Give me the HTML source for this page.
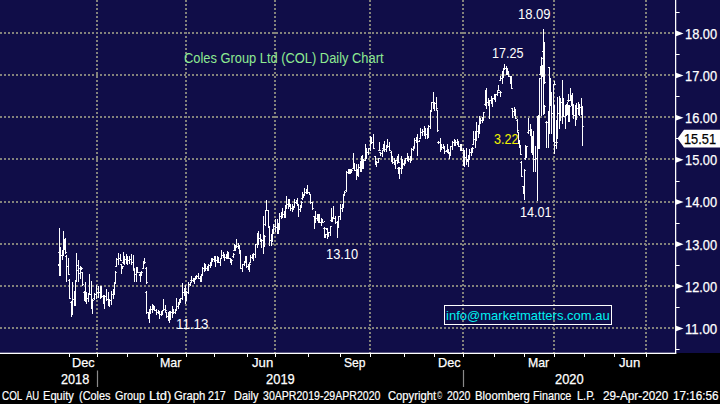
<!DOCTYPE html>
<html><head><meta charset="utf-8"><title>COL Daily Chart</title>
<style>
html,body{margin:0;padding:0;background:#000;}
body{width:720px;height:404px;position:relative;overflow:hidden;font-family:"Liberation Sans",sans-serif;}
.bg{position:absolute;left:0;top:0;width:720px;height:353px;background:#100d48;z-index:0}
.t{position:absolute;white-space:pre;line-height:1;transform-origin:0 0;}
</style></head><body>
<div class="bg"></div>
<svg width="720" height="404" viewBox="0 0 720 404" style="position:absolute;left:0;top:0;z-index:2">
<g stroke="#83827b" stroke-width="2" stroke-dasharray="2 2" fill="none">
<line x1="0" y1="328" x2="675" y2="328"/>
<line x1="0" y1="286" x2="675" y2="286"/>
<line x1="0" y1="244" x2="675" y2="244"/>
<line x1="0" y1="202" x2="675" y2="202"/>
<line x1="0" y1="159" x2="675" y2="159"/>
<line x1="0" y1="117" x2="675" y2="117"/>
<line x1="0" y1="75" x2="675" y2="75"/>
<line x1="0" y1="33" x2="675" y2="33"/>
<line x1="97" y1="0" x2="97" y2="353"/>
<line x1="186" y1="0" x2="186" y2="353"/>
<line x1="275" y1="0" x2="275" y2="353"/>
<line x1="370" y1="0" x2="370" y2="353"/>
<line x1="463" y1="0" x2="463" y2="353"/>
<line x1="554" y1="0" x2="554" y2="353"/>
<line x1="646" y1="0" x2="646" y2="353"/>
</g>
<g fill="#fff" shape-rendering="crispEdges">
<rect x="58" y="264" width="1" height="2"/>
<rect x="59" y="228" width="1" height="48"/>
<rect x="60" y="262" width="1" height="1" fill-opacity="0.85"/>
<rect x="58" y="252" width="1" height="1" fill-opacity="0.85"/>
<rect x="60" y="247" width="1" height="29"/>
<rect x="61" y="255" width="1" height="1" fill-opacity="0.85"/>
<rect x="59" y="262" width="1" height="1" fill-opacity="0.85"/>
<rect x="62" y="250" width="1" height="10"/>
<rect x="63" y="250" width="1" height="1" fill-opacity="0.85"/>
<rect x="61" y="255" width="1" height="1" fill-opacity="0.85"/>
<rect x="63" y="231" width="1" height="25"/>
<rect x="64" y="244" width="1" height="1" fill-opacity="0.85"/>
<rect x="62" y="250" width="1" height="1" fill-opacity="0.85"/>
<rect x="64" y="239" width="1" height="11"/>
<rect x="65" y="246" width="1" height="1" fill-opacity="0.85"/>
<rect x="63" y="244" width="1" height="1" fill-opacity="0.85"/>
<rect x="65" y="238" width="1" height="16"/>
<rect x="66" y="252" width="1" height="1" fill-opacity="0.85"/>
<rect x="64" y="246" width="1" height="1" fill-opacity="0.85"/>
<rect x="66" y="255" width="1" height="27"/>
<rect x="67" y="266" width="1" height="1" fill-opacity="0.85"/>
<rect x="65" y="256" width="1" height="1" fill-opacity="0.85"/>
<rect x="68" y="258" width="1" height="17"/>
<rect x="69" y="274" width="1" height="1" fill-opacity="0.85"/>
<rect x="67" y="266" width="1" height="1" fill-opacity="0.85"/>
<rect x="69" y="279" width="1" height="20"/>
<rect x="70" y="298" width="1" height="1" fill-opacity="0.85"/>
<rect x="68" y="280" width="1" height="1" fill-opacity="0.85"/>
<rect x="71" y="301" width="1" height="16"/>
<rect x="72" y="302" width="1" height="1" fill-opacity="0.85"/>
<rect x="70" y="302" width="1" height="1" fill-opacity="0.85"/>
<rect x="72" y="282" width="1" height="33"/>
<rect x="73" y="299" width="1" height="1" fill-opacity="0.85"/>
<rect x="71" y="302" width="1" height="1" fill-opacity="0.85"/>
<rect x="74" y="291" width="1" height="15"/>
<rect x="75" y="293" width="1" height="1" fill-opacity="0.85"/>
<rect x="73" y="299" width="1" height="1" fill-opacity="0.85"/>
<rect x="75" y="280" width="1" height="26"/>
<rect x="76" y="280" width="1" height="1" fill-opacity="0.85"/>
<rect x="74" y="293" width="1" height="1" fill-opacity="0.85"/>
<rect x="76" y="253" width="1" height="29"/>
<rect x="77" y="265" width="1" height="1" fill-opacity="0.85"/>
<rect x="75" y="280" width="1" height="1" fill-opacity="0.85"/>
<rect x="78" y="260" width="1" height="10"/>
<rect x="79" y="268" width="1" height="1" fill-opacity="0.85"/>
<rect x="77" y="265" width="1" height="1" fill-opacity="0.85"/>
<rect x="78" y="270" width="1" height="12"/>
<rect x="79" y="273" width="1" height="1" fill-opacity="0.85"/>
<rect x="77" y="270" width="1" height="1" fill-opacity="0.85"/>
<rect x="80" y="266" width="1" height="13"/>
<rect x="81" y="268" width="1" height="1" fill-opacity="0.85"/>
<rect x="79" y="273" width="1" height="1" fill-opacity="0.85"/>
<rect x="81" y="267" width="1" height="3"/>
<rect x="82" y="268" width="1" height="1" fill-opacity="0.85"/>
<rect x="80" y="268" width="1" height="1" fill-opacity="0.85"/>
<rect x="82" y="272" width="1" height="14"/>
<rect x="83" y="284" width="1" height="1" fill-opacity="0.85"/>
<rect x="81" y="272" width="1" height="1" fill-opacity="0.85"/>
<rect x="84" y="291" width="1" height="10"/>
<rect x="85" y="292" width="1" height="1" fill-opacity="0.85"/>
<rect x="83" y="292" width="1" height="1" fill-opacity="0.85"/>
<rect x="85" y="282" width="1" height="20"/>
<rect x="86" y="298" width="1" height="1" fill-opacity="0.85"/>
<rect x="84" y="292" width="1" height="1" fill-opacity="0.85"/>
<rect x="86" y="292" width="1" height="12"/>
<rect x="87" y="298" width="1" height="1" fill-opacity="0.85"/>
<rect x="85" y="298" width="1" height="1" fill-opacity="0.85"/>
<rect x="88" y="293" width="1" height="9"/>
<rect x="89" y="294" width="1" height="1" fill-opacity="0.85"/>
<rect x="87" y="298" width="1" height="1" fill-opacity="0.85"/>
<rect x="89" y="274" width="1" height="21"/>
<rect x="90" y="294" width="1" height="1" fill-opacity="0.85"/>
<rect x="88" y="294" width="1" height="1" fill-opacity="0.85"/>
<rect x="91" y="281" width="1" height="28"/>
<rect x="92" y="306" width="1" height="1" fill-opacity="0.85"/>
<rect x="90" y="294" width="1" height="1" fill-opacity="0.85"/>
<rect x="92" y="299" width="1" height="15"/>
<rect x="93" y="300" width="1" height="1" fill-opacity="0.85"/>
<rect x="91" y="306" width="1" height="1" fill-opacity="0.85"/>
<rect x="94" y="293" width="1" height="7"/>
<rect x="95" y="294" width="1" height="1" fill-opacity="0.85"/>
<rect x="93" y="298" width="1" height="1" fill-opacity="0.85"/>
<rect x="96" y="285" width="1" height="14"/>
<rect x="97" y="292" width="1" height="1" fill-opacity="0.85"/>
<rect x="95" y="294" width="1" height="1" fill-opacity="0.85"/>
<rect x="98" y="286" width="1" height="12"/>
<rect x="99" y="292" width="1" height="1" fill-opacity="0.85"/>
<rect x="97" y="292" width="1" height="1" fill-opacity="0.85"/>
<rect x="100" y="286" width="1" height="13"/>
<rect x="101" y="292" width="1" height="1" fill-opacity="0.85"/>
<rect x="99" y="292" width="1" height="1" fill-opacity="0.85"/>
<rect x="101" y="286" width="1" height="12"/>
<rect x="102" y="296" width="1" height="1" fill-opacity="0.85"/>
<rect x="100" y="292" width="1" height="1" fill-opacity="0.85"/>
<rect x="103" y="295" width="1" height="9"/>
<rect x="104" y="302" width="1" height="1" fill-opacity="0.85"/>
<rect x="102" y="296" width="1" height="1" fill-opacity="0.85"/>
<rect x="104" y="295" width="1" height="14"/>
<rect x="105" y="296" width="1" height="1" fill-opacity="0.85"/>
<rect x="103" y="302" width="1" height="1" fill-opacity="0.85"/>
<rect x="106" y="289" width="1" height="12"/>
<rect x="107" y="299" width="1" height="1" fill-opacity="0.85"/>
<rect x="105" y="296" width="1" height="1" fill-opacity="0.85"/>
<rect x="108" y="292" width="1" height="14"/>
<rect x="109" y="303" width="1" height="1" fill-opacity="0.85"/>
<rect x="107" y="299" width="1" height="1" fill-opacity="0.85"/>
<rect x="109" y="299" width="1" height="8"/>
<rect x="110" y="300" width="1" height="1" fill-opacity="0.85"/>
<rect x="108" y="303" width="1" height="1" fill-opacity="0.85"/>
<rect x="111" y="291" width="1" height="14"/>
<rect x="112" y="294" width="1" height="1" fill-opacity="0.85"/>
<rect x="110" y="300" width="1" height="1" fill-opacity="0.85"/>
<rect x="113" y="289" width="1" height="10"/>
<rect x="114" y="290" width="1" height="1" fill-opacity="0.85"/>
<rect x="112" y="294" width="1" height="1" fill-opacity="0.85"/>
<rect x="114" y="282" width="1" height="13"/>
<rect x="115" y="282" width="1" height="1" fill-opacity="0.85"/>
<rect x="113" y="290" width="1" height="1" fill-opacity="0.85"/>
<rect x="115" y="271" width="1" height="13"/>
<rect x="116" y="272" width="1" height="1" fill-opacity="0.85"/>
<rect x="114" y="282" width="1" height="1" fill-opacity="0.85"/>
<rect x="116" y="258" width="1" height="9"/>
<rect x="117" y="259" width="1" height="1" fill-opacity="0.85"/>
<rect x="115" y="266" width="1" height="1" fill-opacity="0.85"/>
<rect x="118" y="253" width="1" height="12"/>
<rect x="119" y="258" width="1" height="1" fill-opacity="0.85"/>
<rect x="117" y="259" width="1" height="1" fill-opacity="0.85"/>
<rect x="120" y="254" width="1" height="7"/>
<rect x="121" y="260" width="1" height="1" fill-opacity="0.85"/>
<rect x="119" y="258" width="1" height="1" fill-opacity="0.85"/>
<rect x="121" y="264" width="1" height="10"/>
<rect x="122" y="268" width="1" height="1" fill-opacity="0.85"/>
<rect x="120" y="264" width="1" height="1" fill-opacity="0.85"/>
<rect x="122" y="266" width="1" height="3"/>
<rect x="123" y="266" width="1" height="1" fill-opacity="0.85"/>
<rect x="121" y="268" width="1" height="1" fill-opacity="0.85"/>
<rect x="123" y="252" width="1" height="12"/>
<rect x="124" y="261" width="1" height="1" fill-opacity="0.85"/>
<rect x="122" y="262" width="1" height="1" fill-opacity="0.85"/>
<rect x="124" y="256" width="1" height="9"/>
<rect x="125" y="259" width="1" height="1" fill-opacity="0.85"/>
<rect x="123" y="261" width="1" height="1" fill-opacity="0.85"/>
<rect x="126" y="254" width="1" height="10"/>
<rect x="127" y="260" width="1" height="1" fill-opacity="0.85"/>
<rect x="125" y="259" width="1" height="1" fill-opacity="0.85"/>
<rect x="127" y="256" width="1" height="9"/>
<rect x="128" y="260" width="1" height="1" fill-opacity="0.85"/>
<rect x="126" y="260" width="1" height="1" fill-opacity="0.85"/>
<rect x="129" y="256" width="1" height="8"/>
<rect x="130" y="259" width="1" height="1" fill-opacity="0.85"/>
<rect x="128" y="260" width="1" height="1" fill-opacity="0.85"/>
<rect x="131" y="254" width="1" height="11"/>
<rect x="132" y="262" width="1" height="1" fill-opacity="0.85"/>
<rect x="130" y="259" width="1" height="1" fill-opacity="0.85"/>
<rect x="133" y="255" width="1" height="15"/>
<rect x="134" y="268" width="1" height="1" fill-opacity="0.85"/>
<rect x="132" y="262" width="1" height="1" fill-opacity="0.85"/>
<rect x="134" y="269" width="1" height="13"/>
<rect x="135" y="274" width="1" height="1" fill-opacity="0.85"/>
<rect x="133" y="270" width="1" height="1" fill-opacity="0.85"/>
<rect x="136" y="267" width="1" height="15"/>
<rect x="137" y="270" width="1" height="1" fill-opacity="0.85"/>
<rect x="135" y="274" width="1" height="1" fill-opacity="0.85"/>
<rect x="137" y="267" width="1" height="6"/>
<rect x="138" y="272" width="1" height="1" fill-opacity="0.85"/>
<rect x="136" y="270" width="1" height="1" fill-opacity="0.85"/>
<rect x="139" y="274" width="1" height="2"/>
<rect x="140" y="272" width="1" height="10"/>
<rect x="141" y="274" width="1" height="1" fill-opacity="0.85"/>
<rect x="139" y="272" width="1" height="1" fill-opacity="0.85"/>
<rect x="141" y="271" width="1" height="5"/>
<rect x="142" y="272" width="1" height="1" fill-opacity="0.85"/>
<rect x="140" y="274" width="1" height="1" fill-opacity="0.85"/>
<rect x="143" y="261" width="1" height="8"/>
<rect x="144" y="262" width="1" height="1" fill-opacity="0.85"/>
<rect x="142" y="268" width="1" height="1" fill-opacity="0.85"/>
<rect x="144" y="258" width="1" height="6"/>
<rect x="145" y="262" width="1" height="1" fill-opacity="0.85"/>
<rect x="143" y="262" width="1" height="1" fill-opacity="0.85"/>
<rect x="146" y="267" width="1" height="17"/>
<rect x="147" y="282" width="1" height="1" fill-opacity="0.85"/>
<rect x="145" y="268" width="1" height="1" fill-opacity="0.85"/>
<rect x="146" y="291" width="1" height="23"/>
<rect x="147" y="312" width="1" height="1" fill-opacity="0.85"/>
<rect x="145" y="292" width="1" height="1" fill-opacity="0.85"/>
<rect x="148" y="312" width="1" height="7"/>
<rect x="149" y="316" width="1" height="1" fill-opacity="0.85"/>
<rect x="147" y="312" width="1" height="1" fill-opacity="0.85"/>
<rect x="149" y="309" width="1" height="14"/>
<rect x="150" y="310" width="1" height="1" fill-opacity="0.85"/>
<rect x="148" y="316" width="1" height="1" fill-opacity="0.85"/>
<rect x="150" y="306" width="1" height="8"/>
<rect x="151" y="309" width="1" height="1" fill-opacity="0.85"/>
<rect x="149" y="310" width="1" height="1" fill-opacity="0.85"/>
<rect x="152" y="304" width="1" height="9"/>
<rect x="153" y="308" width="1" height="1" fill-opacity="0.85"/>
<rect x="151" y="309" width="1" height="1" fill-opacity="0.85"/>
<rect x="153" y="305" width="1" height="5"/>
<rect x="154" y="308" width="1" height="1" fill-opacity="0.85"/>
<rect x="152" y="308" width="1" height="1" fill-opacity="0.85"/>
<rect x="154" y="306" width="1" height="5"/>
<rect x="155" y="310" width="1" height="1" fill-opacity="0.85"/>
<rect x="153" y="308" width="1" height="1" fill-opacity="0.85"/>
<rect x="156" y="309" width="1" height="6"/>
<rect x="157" y="312" width="1" height="1" fill-opacity="0.85"/>
<rect x="155" y="310" width="1" height="1" fill-opacity="0.85"/>
<rect x="158" y="310" width="1" height="4"/>
<rect x="159" y="312" width="1" height="1" fill-opacity="0.85"/>
<rect x="157" y="312" width="1" height="1" fill-opacity="0.85"/>
<rect x="159" y="311" width="1" height="8"/>
<rect x="160" y="314" width="1" height="1" fill-opacity="0.85"/>
<rect x="158" y="312" width="1" height="1" fill-opacity="0.85"/>
<rect x="161" y="311" width="1" height="5"/>
<rect x="162" y="312" width="1" height="1" fill-opacity="0.85"/>
<rect x="160" y="314" width="1" height="1" fill-opacity="0.85"/>
<rect x="162" y="310" width="1" height="5"/>
<rect x="163" y="310" width="1" height="1" fill-opacity="0.85"/>
<rect x="161" y="312" width="1" height="1" fill-opacity="0.85"/>
<rect x="163" y="299" width="1" height="12"/>
<rect x="164" y="309" width="1" height="1" fill-opacity="0.85"/>
<rect x="162" y="310" width="1" height="1" fill-opacity="0.85"/>
<rect x="165" y="305" width="1" height="7"/>
<rect x="166" y="310" width="1" height="1" fill-opacity="0.85"/>
<rect x="164" y="309" width="1" height="1" fill-opacity="0.85"/>
<rect x="166" y="312" width="1" height="6"/>
<rect x="167" y="316" width="1" height="1" fill-opacity="0.85"/>
<rect x="165" y="312" width="1" height="1" fill-opacity="0.85"/>
<rect x="168" y="312" width="1" height="9"/>
<rect x="169" y="317" width="1" height="1" fill-opacity="0.85"/>
<rect x="167" y="316" width="1" height="1" fill-opacity="0.85"/>
<rect x="169" y="311" width="1" height="12"/>
<rect x="170" y="316" width="1" height="1" fill-opacity="0.85"/>
<rect x="168" y="317" width="1" height="1" fill-opacity="0.85"/>
<rect x="170" y="311" width="1" height="9"/>
<rect x="171" y="312" width="1" height="1" fill-opacity="0.85"/>
<rect x="169" y="316" width="1" height="1" fill-opacity="0.85"/>
<rect x="172" y="306" width="1" height="12"/>
<rect x="173" y="311" width="1" height="1" fill-opacity="0.85"/>
<rect x="171" y="312" width="1" height="1" fill-opacity="0.85"/>
<rect x="173" y="309" width="1" height="5"/>
<rect x="174" y="312" width="1" height="1" fill-opacity="0.85"/>
<rect x="172" y="311" width="1" height="1" fill-opacity="0.85"/>
<rect x="175" y="309" width="1" height="5"/>
<rect x="176" y="310" width="1" height="1" fill-opacity="0.85"/>
<rect x="174" y="312" width="1" height="1" fill-opacity="0.85"/>
<rect x="176" y="298" width="1" height="13"/>
<rect x="177" y="306" width="1" height="1" fill-opacity="0.85"/>
<rect x="175" y="310" width="1" height="1" fill-opacity="0.85"/>
<rect x="178" y="302" width="1" height="7"/>
<rect x="179" y="302" width="1" height="1" fill-opacity="0.85"/>
<rect x="177" y="306" width="1" height="1" fill-opacity="0.85"/>
<rect x="179" y="299" width="1" height="6"/>
<rect x="180" y="301" width="1" height="1" fill-opacity="0.85"/>
<rect x="178" y="302" width="1" height="1" fill-opacity="0.85"/>
<rect x="180" y="298" width="1" height="5"/>
<rect x="181" y="298" width="1" height="1" fill-opacity="0.85"/>
<rect x="179" y="301" width="1" height="1" fill-opacity="0.85"/>
<rect x="182" y="283" width="1" height="17"/>
<rect x="183" y="292" width="1" height="1" fill-opacity="0.85"/>
<rect x="181" y="298" width="1" height="1" fill-opacity="0.85"/>
<rect x="184" y="288" width="1" height="8"/>
<rect x="185" y="294" width="1" height="1" fill-opacity="0.85"/>
<rect x="183" y="292" width="1" height="1" fill-opacity="0.85"/>
<rect x="185" y="285" width="1" height="19"/>
<rect x="186" y="296" width="1" height="1" fill-opacity="0.85"/>
<rect x="184" y="294" width="1" height="1" fill-opacity="0.85"/>
<rect x="186" y="291" width="1" height="10"/>
<rect x="187" y="292" width="1" height="1" fill-opacity="0.85"/>
<rect x="185" y="296" width="1" height="1" fill-opacity="0.85"/>
<rect x="188" y="282" width="1" height="12"/>
<rect x="189" y="284" width="1" height="1" fill-opacity="0.85"/>
<rect x="187" y="292" width="1" height="1" fill-opacity="0.85"/>
<rect x="190" y="282" width="1" height="4"/>
<rect x="191" y="282" width="1" height="1" fill-opacity="0.85"/>
<rect x="189" y="284" width="1" height="1" fill-opacity="0.85"/>
<rect x="191" y="276" width="1" height="6"/>
<rect x="192" y="280" width="1" height="1" fill-opacity="0.85"/>
<rect x="190" y="280" width="1" height="1" fill-opacity="0.85"/>
<rect x="193" y="278" width="1" height="4"/>
<rect x="194" y="280" width="1" height="1" fill-opacity="0.85"/>
<rect x="192" y="280" width="1" height="1" fill-opacity="0.85"/>
<rect x="194" y="278" width="1" height="6"/>
<rect x="195" y="278" width="1" height="1" fill-opacity="0.85"/>
<rect x="193" y="280" width="1" height="1" fill-opacity="0.85"/>
<rect x="195" y="276" width="1" height="4"/>
<rect x="196" y="277" width="1" height="1" fill-opacity="0.85"/>
<rect x="194" y="278" width="1" height="1" fill-opacity="0.85"/>
<rect x="196" y="275" width="1" height="4"/>
<rect x="197" y="276" width="1" height="1" fill-opacity="0.85"/>
<rect x="195" y="277" width="1" height="1" fill-opacity="0.85"/>
<rect x="198" y="273" width="1" height="6"/>
<rect x="199" y="278" width="1" height="1" fill-opacity="0.85"/>
<rect x="197" y="276" width="1" height="1" fill-opacity="0.85"/>
<rect x="200" y="276" width="1" height="6"/>
<rect x="201" y="278" width="1" height="1" fill-opacity="0.85"/>
<rect x="199" y="278" width="1" height="1" fill-opacity="0.85"/>
<rect x="201" y="274" width="1" height="8"/>
<rect x="202" y="274" width="1" height="1" fill-opacity="0.85"/>
<rect x="200" y="278" width="1" height="1" fill-opacity="0.85"/>
<rect x="202" y="267" width="1" height="9"/>
<rect x="203" y="268" width="1" height="1" fill-opacity="0.85"/>
<rect x="201" y="274" width="1" height="1" fill-opacity="0.85"/>
<rect x="204" y="263" width="1" height="9"/>
<rect x="205" y="268" width="1" height="1" fill-opacity="0.85"/>
<rect x="203" y="268" width="1" height="1" fill-opacity="0.85"/>
<rect x="205" y="264" width="1" height="7"/>
<rect x="206" y="268" width="1" height="1" fill-opacity="0.85"/>
<rect x="204" y="268" width="1" height="1" fill-opacity="0.85"/>
<rect x="207" y="266" width="1" height="5"/>
<rect x="208" y="268" width="1" height="1" fill-opacity="0.85"/>
<rect x="206" y="268" width="1" height="1" fill-opacity="0.85"/>
<rect x="208" y="264" width="1" height="7"/>
<rect x="209" y="265" width="1" height="1" fill-opacity="0.85"/>
<rect x="207" y="268" width="1" height="1" fill-opacity="0.85"/>
<rect x="210" y="262" width="1" height="6"/>
<rect x="211" y="262" width="1" height="1" fill-opacity="0.85"/>
<rect x="209" y="265" width="1" height="1" fill-opacity="0.85"/>
<rect x="211" y="258" width="1" height="8"/>
<rect x="212" y="260" width="1" height="1" fill-opacity="0.85"/>
<rect x="210" y="262" width="1" height="1" fill-opacity="0.85"/>
<rect x="212" y="258" width="1" height="4"/>
<rect x="213" y="259" width="1" height="1" fill-opacity="0.85"/>
<rect x="211" y="260" width="1" height="1" fill-opacity="0.85"/>
<rect x="214" y="256" width="1" height="6"/>
<rect x="215" y="260" width="1" height="1" fill-opacity="0.85"/>
<rect x="213" y="259" width="1" height="1" fill-opacity="0.85"/>
<rect x="215" y="256" width="1" height="11"/>
<rect x="216" y="260" width="1" height="1" fill-opacity="0.85"/>
<rect x="214" y="260" width="1" height="1" fill-opacity="0.85"/>
<rect x="217" y="256" width="1" height="7"/>
<rect x="218" y="260" width="1" height="1" fill-opacity="0.85"/>
<rect x="216" y="260" width="1" height="1" fill-opacity="0.85"/>
<rect x="218" y="257" width="1" height="6"/>
<rect x="219" y="262" width="1" height="1" fill-opacity="0.85"/>
<rect x="217" y="260" width="1" height="1" fill-opacity="0.85"/>
<rect x="220" y="258" width="1" height="8"/>
<rect x="221" y="258" width="1" height="1" fill-opacity="0.85"/>
<rect x="219" y="262" width="1" height="1" fill-opacity="0.85"/>
<rect x="221" y="250" width="1" height="9"/>
<rect x="222" y="255" width="1" height="1" fill-opacity="0.85"/>
<rect x="220" y="258" width="1" height="1" fill-opacity="0.85"/>
<rect x="223" y="252" width="1" height="6"/>
<rect x="224" y="256" width="1" height="1" fill-opacity="0.85"/>
<rect x="222" y="255" width="1" height="1" fill-opacity="0.85"/>
<rect x="224" y="254" width="1" height="7"/>
<rect x="225" y="257" width="1" height="1" fill-opacity="0.85"/>
<rect x="223" y="256" width="1" height="1" fill-opacity="0.85"/>
<rect x="226" y="254" width="1" height="5"/>
<rect x="227" y="255" width="1" height="1" fill-opacity="0.85"/>
<rect x="225" y="257" width="1" height="1" fill-opacity="0.85"/>
<rect x="227" y="251" width="1" height="8"/>
<rect x="228" y="256" width="1" height="1" fill-opacity="0.85"/>
<rect x="226" y="255" width="1" height="1" fill-opacity="0.85"/>
<rect x="228" y="252" width="1" height="7"/>
<rect x="229" y="258" width="1" height="1" fill-opacity="0.85"/>
<rect x="227" y="256" width="1" height="1" fill-opacity="0.85"/>
<rect x="230" y="258" width="1" height="5"/>
<rect x="231" y="262" width="1" height="1" fill-opacity="0.85"/>
<rect x="229" y="258" width="1" height="1" fill-opacity="0.85"/>
<rect x="231" y="259" width="1" height="6"/>
<rect x="232" y="260" width="1" height="1" fill-opacity="0.85"/>
<rect x="230" y="262" width="1" height="1" fill-opacity="0.85"/>
<rect x="233" y="253" width="1" height="5"/>
<rect x="234" y="254" width="1" height="1" fill-opacity="0.85"/>
<rect x="232" y="256" width="1" height="1" fill-opacity="0.85"/>
<rect x="234" y="244" width="1" height="7"/>
<rect x="235" y="248" width="1" height="1" fill-opacity="0.85"/>
<rect x="233" y="250" width="1" height="1" fill-opacity="0.85"/>
<rect x="235" y="245" width="1" height="6"/>
<rect x="236" y="246" width="1" height="1" fill-opacity="0.85"/>
<rect x="234" y="248" width="1" height="1" fill-opacity="0.85"/>
<rect x="236" y="239" width="1" height="9"/>
<rect x="237" y="246" width="1" height="1" fill-opacity="0.85"/>
<rect x="235" y="246" width="1" height="1" fill-opacity="0.85"/>
<rect x="238" y="243" width="1" height="6"/>
<rect x="239" y="248" width="1" height="1" fill-opacity="0.85"/>
<rect x="237" y="246" width="1" height="1" fill-opacity="0.85"/>
<rect x="239" y="245" width="1" height="9"/>
<rect x="240" y="252" width="1" height="1" fill-opacity="0.85"/>
<rect x="238" y="248" width="1" height="1" fill-opacity="0.85"/>
<rect x="240" y="250" width="1" height="19"/>
<rect x="241" y="268" width="1" height="1" fill-opacity="0.85"/>
<rect x="239" y="252" width="1" height="1" fill-opacity="0.85"/>
<rect x="242" y="264" width="1" height="8"/>
<rect x="243" y="264" width="1" height="1" fill-opacity="0.85"/>
<rect x="241" y="268" width="1" height="1" fill-opacity="0.85"/>
<rect x="244" y="261" width="1" height="5"/>
<rect x="245" y="262" width="1" height="1" fill-opacity="0.85"/>
<rect x="243" y="264" width="1" height="1" fill-opacity="0.85"/>
<rect x="245" y="256" width="1" height="7"/>
<rect x="246" y="262" width="1" height="1" fill-opacity="0.85"/>
<rect x="244" y="262" width="1" height="1" fill-opacity="0.85"/>
<rect x="246" y="256" width="1" height="12"/>
<rect x="247" y="266" width="1" height="1" fill-opacity="0.85"/>
<rect x="245" y="262" width="1" height="1" fill-opacity="0.85"/>
<rect x="248" y="264" width="1" height="6"/>
<rect x="249" y="268" width="1" height="1" fill-opacity="0.85"/>
<rect x="247" y="266" width="1" height="1" fill-opacity="0.85"/>
<rect x="249" y="263" width="1" height="9"/>
<rect x="250" y="264" width="1" height="1" fill-opacity="0.85"/>
<rect x="248" y="268" width="1" height="1" fill-opacity="0.85"/>
<rect x="250" y="255" width="1" height="8"/>
<rect x="251" y="257" width="1" height="1" fill-opacity="0.85"/>
<rect x="249" y="262" width="1" height="1" fill-opacity="0.85"/>
<rect x="252" y="254" width="1" height="5"/>
<rect x="253" y="257" width="1" height="1" fill-opacity="0.85"/>
<rect x="251" y="257" width="1" height="1" fill-opacity="0.85"/>
<rect x="253" y="253" width="1" height="8"/>
<rect x="254" y="254" width="1" height="1" fill-opacity="0.85"/>
<rect x="252" y="257" width="1" height="1" fill-opacity="0.85"/>
<rect x="255" y="244" width="1" height="14"/>
<rect x="256" y="244" width="1" height="1" fill-opacity="0.85"/>
<rect x="254" y="254" width="1" height="1" fill-opacity="0.85"/>
<rect x="257" y="233" width="1" height="15"/>
<rect x="258" y="238" width="1" height="1" fill-opacity="0.85"/>
<rect x="256" y="244" width="1" height="1" fill-opacity="0.85"/>
<rect x="258" y="231" width="1" height="14"/>
<rect x="259" y="238" width="1" height="1" fill-opacity="0.85"/>
<rect x="257" y="238" width="1" height="1" fill-opacity="0.85"/>
<rect x="260" y="234" width="1" height="8"/>
<rect x="261" y="240" width="1" height="1" fill-opacity="0.85"/>
<rect x="259" y="238" width="1" height="1" fill-opacity="0.85"/>
<rect x="261" y="239" width="1" height="9"/>
<rect x="262" y="240" width="1" height="1" fill-opacity="0.85"/>
<rect x="260" y="240" width="1" height="1" fill-opacity="0.85"/>
<rect x="263" y="216" width="1" height="38"/>
<rect x="264" y="241" width="1" height="1" fill-opacity="0.85"/>
<rect x="262" y="240" width="1" height="1" fill-opacity="0.85"/>
<rect x="264" y="235" width="1" height="12"/>
<rect x="265" y="236" width="1" height="1" fill-opacity="0.85"/>
<rect x="263" y="241" width="1" height="1" fill-opacity="0.85"/>
<rect x="265" y="210" width="1" height="16"/>
<rect x="266" y="210" width="1" height="1" fill-opacity="0.85"/>
<rect x="264" y="224" width="1" height="1" fill-opacity="0.85"/>
<rect x="266" y="200" width="1" height="11"/>
<rect x="267" y="210" width="1" height="1" fill-opacity="0.85"/>
<rect x="265" y="210" width="1" height="1" fill-opacity="0.85"/>
<rect x="268" y="210" width="1" height="18"/>
<rect x="269" y="226" width="1" height="1" fill-opacity="0.85"/>
<rect x="267" y="210" width="1" height="1" fill-opacity="0.85"/>
<rect x="269" y="226" width="1" height="20"/>
<rect x="270" y="240" width="1" height="1" fill-opacity="0.85"/>
<rect x="268" y="226" width="1" height="1" fill-opacity="0.85"/>
<rect x="271" y="234" width="1" height="12"/>
<rect x="272" y="236" width="1" height="1" fill-opacity="0.85"/>
<rect x="270" y="240" width="1" height="1" fill-opacity="0.85"/>
<rect x="272" y="229" width="1" height="13"/>
<rect x="273" y="230" width="1" height="1" fill-opacity="0.85"/>
<rect x="271" y="236" width="1" height="1" fill-opacity="0.85"/>
<rect x="273" y="224" width="1" height="10"/>
<rect x="274" y="226" width="1" height="1" fill-opacity="0.85"/>
<rect x="272" y="230" width="1" height="1" fill-opacity="0.85"/>
<rect x="275" y="219" width="1" height="13"/>
<rect x="276" y="227" width="1" height="1" fill-opacity="0.85"/>
<rect x="274" y="226" width="1" height="1" fill-opacity="0.85"/>
<rect x="277" y="219" width="1" height="15"/>
<rect x="278" y="229" width="1" height="1" fill-opacity="0.85"/>
<rect x="276" y="227" width="1" height="1" fill-opacity="0.85"/>
<rect x="278" y="223" width="1" height="11"/>
<rect x="279" y="224" width="1" height="1" fill-opacity="0.85"/>
<rect x="277" y="229" width="1" height="1" fill-opacity="0.85"/>
<rect x="279" y="213" width="1" height="17"/>
<rect x="280" y="216" width="1" height="1" fill-opacity="0.85"/>
<rect x="278" y="224" width="1" height="1" fill-opacity="0.85"/>
<rect x="281" y="212" width="1" height="7"/>
<rect x="282" y="213" width="1" height="1" fill-opacity="0.85"/>
<rect x="280" y="216" width="1" height="1" fill-opacity="0.85"/>
<rect x="282" y="208" width="1" height="10"/>
<rect x="283" y="214" width="1" height="1" fill-opacity="0.85"/>
<rect x="281" y="213" width="1" height="1" fill-opacity="0.85"/>
<rect x="284" y="211" width="1" height="7"/>
<rect x="285" y="212" width="1" height="1" fill-opacity="0.85"/>
<rect x="283" y="214" width="1" height="1" fill-opacity="0.85"/>
<rect x="285" y="205" width="1" height="13"/>
<rect x="286" y="206" width="1" height="1" fill-opacity="0.85"/>
<rect x="284" y="212" width="1" height="1" fill-opacity="0.85"/>
<rect x="286" y="196" width="1" height="13"/>
<rect x="287" y="204" width="1" height="1" fill-opacity="0.85"/>
<rect x="285" y="206" width="1" height="1" fill-opacity="0.85"/>
<rect x="288" y="199" width="1" height="10"/>
<rect x="289" y="203" width="1" height="1" fill-opacity="0.85"/>
<rect x="287" y="204" width="1" height="1" fill-opacity="0.85"/>
<rect x="289" y="199" width="1" height="8"/>
<rect x="290" y="206" width="1" height="1" fill-opacity="0.85"/>
<rect x="288" y="203" width="1" height="1" fill-opacity="0.85"/>
<rect x="290" y="204" width="1" height="7"/>
<rect x="291" y="208" width="1" height="1" fill-opacity="0.85"/>
<rect x="289" y="206" width="1" height="1" fill-opacity="0.85"/>
<rect x="292" y="204" width="1" height="8"/>
<rect x="293" y="208" width="1" height="1" fill-opacity="0.85"/>
<rect x="291" y="208" width="1" height="1" fill-opacity="0.85"/>
<rect x="293" y="206" width="1" height="4"/>
<rect x="294" y="206" width="1" height="1" fill-opacity="0.85"/>
<rect x="292" y="208" width="1" height="1" fill-opacity="0.85"/>
<rect x="294" y="199" width="1" height="9"/>
<rect x="295" y="202" width="1" height="1" fill-opacity="0.85"/>
<rect x="293" y="206" width="1" height="1" fill-opacity="0.85"/>
<rect x="296" y="200" width="1" height="4"/>
<rect x="297" y="202" width="1" height="1" fill-opacity="0.85"/>
<rect x="295" y="202" width="1" height="1" fill-opacity="0.85"/>
<rect x="297" y="198" width="1" height="8"/>
<rect x="298" y="204" width="1" height="1" fill-opacity="0.85"/>
<rect x="296" y="202" width="1" height="1" fill-opacity="0.85"/>
<rect x="298" y="204" width="1" height="13"/>
<rect x="299" y="209" width="1" height="1" fill-opacity="0.85"/>
<rect x="297" y="204" width="1" height="1" fill-opacity="0.85"/>
<rect x="300" y="205" width="1" height="7"/>
<rect x="301" y="206" width="1" height="1" fill-opacity="0.85"/>
<rect x="299" y="209" width="1" height="1" fill-opacity="0.85"/>
<rect x="301" y="201" width="1" height="7"/>
<rect x="302" y="202" width="1" height="1" fill-opacity="0.85"/>
<rect x="300" y="206" width="1" height="1" fill-opacity="0.85"/>
<rect x="302" y="192" width="1" height="8"/>
<rect x="303" y="196" width="1" height="1" fill-opacity="0.85"/>
<rect x="301" y="198" width="1" height="1" fill-opacity="0.85"/>
<rect x="303" y="194" width="1" height="4"/>
<rect x="304" y="194" width="1" height="1" fill-opacity="0.85"/>
<rect x="302" y="196" width="1" height="1" fill-opacity="0.85"/>
<rect x="304" y="188" width="1" height="8"/>
<rect x="305" y="192" width="1" height="1" fill-opacity="0.85"/>
<rect x="303" y="194" width="1" height="1" fill-opacity="0.85"/>
<rect x="306" y="189" width="1" height="5"/>
<rect x="307" y="190" width="1" height="1" fill-opacity="0.85"/>
<rect x="305" y="192" width="1" height="1" fill-opacity="0.85"/>
<rect x="307" y="185" width="1" height="9"/>
<rect x="308" y="192" width="1" height="1" fill-opacity="0.85"/>
<rect x="306" y="190" width="1" height="1" fill-opacity="0.85"/>
<rect x="309" y="192" width="1" height="3"/>
<rect x="310" y="194" width="1" height="1" fill-opacity="0.85"/>
<rect x="308" y="192" width="1" height="1" fill-opacity="0.85"/>
<rect x="310" y="194" width="1" height="10"/>
<rect x="311" y="202" width="1" height="1" fill-opacity="0.85"/>
<rect x="309" y="194" width="1" height="1" fill-opacity="0.85"/>
<rect x="312" y="202" width="1" height="8"/>
<rect x="313" y="208" width="1" height="1" fill-opacity="0.85"/>
<rect x="311" y="202" width="1" height="1" fill-opacity="0.85"/>
<rect x="314" y="216" width="1" height="13"/>
<rect x="315" y="217" width="1" height="1" fill-opacity="0.85"/>
<rect x="313" y="216" width="1" height="1" fill-opacity="0.85"/>
<rect x="315" y="211" width="1" height="12"/>
<rect x="316" y="218" width="1" height="1" fill-opacity="0.85"/>
<rect x="314" y="217" width="1" height="1" fill-opacity="0.85"/>
<rect x="317" y="214" width="1" height="7"/>
<rect x="318" y="219" width="1" height="1" fill-opacity="0.85"/>
<rect x="316" y="218" width="1" height="1" fill-opacity="0.85"/>
<rect x="318" y="214" width="1" height="9"/>
<rect x="319" y="219" width="1" height="1" fill-opacity="0.85"/>
<rect x="317" y="219" width="1" height="1" fill-opacity="0.85"/>
<rect x="319" y="214" width="1" height="9"/>
<rect x="320" y="222" width="1" height="1" fill-opacity="0.85"/>
<rect x="318" y="219" width="1" height="1" fill-opacity="0.85"/>
<rect x="321" y="218" width="1" height="8"/>
<rect x="322" y="221" width="1" height="1" fill-opacity="0.85"/>
<rect x="320" y="222" width="1" height="1" fill-opacity="0.85"/>
<rect x="322" y="219" width="1" height="4"/>
<rect x="323" y="222" width="1" height="1" fill-opacity="0.85"/>
<rect x="321" y="221" width="1" height="1" fill-opacity="0.85"/>
<rect x="324" y="227" width="1" height="11"/>
<rect x="325" y="228" width="1" height="1" fill-opacity="0.85"/>
<rect x="323" y="228" width="1" height="1" fill-opacity="0.85"/>
<rect x="324" y="221" width="1" height="1"/>
<rect x="325" y="234" width="1" height="4"/>
<rect x="326" y="234" width="1" height="1" fill-opacity="0.85"/>
<rect x="324" y="234" width="1" height="1" fill-opacity="0.85"/>
<rect x="326" y="228" width="1" height="2"/>
<rect x="327" y="228" width="1" height="11"/>
<rect x="328" y="234" width="1" height="1" fill-opacity="0.85"/>
<rect x="326" y="234" width="1" height="1" fill-opacity="0.85"/>
<rect x="328" y="232" width="1" height="5"/>
<rect x="329" y="232" width="1" height="1" fill-opacity="0.85"/>
<rect x="327" y="234" width="1" height="1" fill-opacity="0.85"/>
<rect x="330" y="226" width="1" height="10"/>
<rect x="331" y="226" width="1" height="1" fill-opacity="0.85"/>
<rect x="329" y="232" width="1" height="1" fill-opacity="0.85"/>
<rect x="331" y="208" width="1" height="14"/>
<rect x="332" y="219" width="1" height="1" fill-opacity="0.85"/>
<rect x="330" y="220" width="1" height="1" fill-opacity="0.85"/>
<rect x="332" y="217" width="1" height="5"/>
<rect x="333" y="218" width="1" height="1" fill-opacity="0.85"/>
<rect x="331" y="219" width="1" height="1" fill-opacity="0.85"/>
<rect x="333" y="206" width="1" height="13"/>
<rect x="334" y="218" width="1" height="1" fill-opacity="0.85"/>
<rect x="332" y="218" width="1" height="1" fill-opacity="0.85"/>
<rect x="335" y="216" width="1" height="8"/>
<rect x="336" y="222" width="1" height="1" fill-opacity="0.85"/>
<rect x="334" y="218" width="1" height="1" fill-opacity="0.85"/>
<rect x="337" y="221" width="1" height="17"/>
<rect x="338" y="222" width="1" height="1" fill-opacity="0.85"/>
<rect x="336" y="222" width="1" height="1" fill-opacity="0.85"/>
<rect x="338" y="216" width="1" height="12"/>
<rect x="339" y="216" width="1" height="1" fill-opacity="0.85"/>
<rect x="337" y="222" width="1" height="1" fill-opacity="0.85"/>
<rect x="340" y="204" width="1" height="16"/>
<rect x="341" y="208" width="1" height="1" fill-opacity="0.85"/>
<rect x="339" y="216" width="1" height="1" fill-opacity="0.85"/>
<rect x="342" y="204" width="1" height="8"/>
<rect x="343" y="204" width="1" height="1" fill-opacity="0.85"/>
<rect x="341" y="208" width="1" height="1" fill-opacity="0.85"/>
<rect x="343" y="194" width="1" height="14"/>
<rect x="344" y="194" width="1" height="1" fill-opacity="0.85"/>
<rect x="342" y="204" width="1" height="1" fill-opacity="0.85"/>
<rect x="344" y="191" width="1" height="5"/>
<rect x="345" y="192" width="1" height="1" fill-opacity="0.85"/>
<rect x="343" y="194" width="1" height="1" fill-opacity="0.85"/>
<rect x="346" y="171" width="1" height="21"/>
<rect x="347" y="172" width="1" height="1" fill-opacity="0.85"/>
<rect x="345" y="190" width="1" height="1" fill-opacity="0.85"/>
<rect x="348" y="169" width="1" height="5"/>
<rect x="349" y="171" width="1" height="1" fill-opacity="0.85"/>
<rect x="347" y="172" width="1" height="1" fill-opacity="0.85"/>
<rect x="349" y="169" width="1" height="5"/>
<rect x="350" y="171" width="1" height="1" fill-opacity="0.85"/>
<rect x="348" y="171" width="1" height="1" fill-opacity="0.85"/>
<rect x="350" y="169" width="1" height="5"/>
<rect x="351" y="171" width="1" height="1" fill-opacity="0.85"/>
<rect x="349" y="171" width="1" height="1" fill-opacity="0.85"/>
<rect x="351" y="169" width="1" height="4"/>
<rect x="352" y="170" width="1" height="1" fill-opacity="0.85"/>
<rect x="350" y="171" width="1" height="1" fill-opacity="0.85"/>
<rect x="353" y="153" width="1" height="16"/>
<rect x="354" y="167" width="1" height="1" fill-opacity="0.85"/>
<rect x="352" y="168" width="1" height="1" fill-opacity="0.85"/>
<rect x="354" y="163" width="1" height="8"/>
<rect x="355" y="170" width="1" height="1" fill-opacity="0.85"/>
<rect x="353" y="167" width="1" height="1" fill-opacity="0.85"/>
<rect x="356" y="164" width="1" height="16"/>
<rect x="357" y="172" width="1" height="1" fill-opacity="0.85"/>
<rect x="355" y="170" width="1" height="1" fill-opacity="0.85"/>
<rect x="357" y="169" width="1" height="7"/>
<rect x="358" y="171" width="1" height="1" fill-opacity="0.85"/>
<rect x="356" y="172" width="1" height="1" fill-opacity="0.85"/>
<rect x="358" y="164" width="1" height="13"/>
<rect x="359" y="167" width="1" height="1" fill-opacity="0.85"/>
<rect x="357" y="171" width="1" height="1" fill-opacity="0.85"/>
<rect x="360" y="161" width="1" height="11"/>
<rect x="361" y="164" width="1" height="1" fill-opacity="0.85"/>
<rect x="359" y="167" width="1" height="1" fill-opacity="0.85"/>
<rect x="361" y="156" width="1" height="16"/>
<rect x="362" y="162" width="1" height="1" fill-opacity="0.85"/>
<rect x="360" y="164" width="1" height="1" fill-opacity="0.85"/>
<rect x="362" y="155" width="1" height="14"/>
<rect x="363" y="164" width="1" height="1" fill-opacity="0.85"/>
<rect x="361" y="162" width="1" height="1" fill-opacity="0.85"/>
<rect x="363" y="159" width="1" height="10"/>
<rect x="364" y="160" width="1" height="1" fill-opacity="0.85"/>
<rect x="362" y="164" width="1" height="1" fill-opacity="0.85"/>
<rect x="365" y="144" width="1" height="17"/>
<rect x="366" y="153" width="1" height="1" fill-opacity="0.85"/>
<rect x="364" y="160" width="1" height="1" fill-opacity="0.85"/>
<rect x="366" y="148" width="1" height="11"/>
<rect x="367" y="152" width="1" height="1" fill-opacity="0.85"/>
<rect x="365" y="153" width="1" height="1" fill-opacity="0.85"/>
<rect x="368" y="148" width="1" height="7"/>
<rect x="369" y="148" width="1" height="1" fill-opacity="0.85"/>
<rect x="367" y="152" width="1" height="1" fill-opacity="0.85"/>
<rect x="370" y="136" width="1" height="15"/>
<rect x="371" y="140" width="1" height="1" fill-opacity="0.85"/>
<rect x="369" y="148" width="1" height="1" fill-opacity="0.85"/>
<rect x="371" y="137" width="1" height="7"/>
<rect x="372" y="142" width="1" height="1" fill-opacity="0.85"/>
<rect x="370" y="140" width="1" height="1" fill-opacity="0.85"/>
<rect x="373" y="134" width="1" height="15"/>
<rect x="374" y="148" width="1" height="1" fill-opacity="0.85"/>
<rect x="372" y="142" width="1" height="1" fill-opacity="0.85"/>
<rect x="375" y="156" width="1" height="9"/>
<rect x="376" y="164" width="1" height="1" fill-opacity="0.85"/>
<rect x="374" y="156" width="1" height="1" fill-opacity="0.85"/>
<rect x="376" y="161" width="1" height="6"/>
<rect x="377" y="162" width="1" height="1" fill-opacity="0.85"/>
<rect x="375" y="164" width="1" height="1" fill-opacity="0.85"/>
<rect x="378" y="158" width="1" height="5"/>
<rect x="379" y="158" width="1" height="1" fill-opacity="0.85"/>
<rect x="377" y="162" width="1" height="1" fill-opacity="0.85"/>
<rect x="379" y="142" width="1" height="9"/>
<rect x="380" y="150" width="1" height="1" fill-opacity="0.85"/>
<rect x="378" y="150" width="1" height="1" fill-opacity="0.85"/>
<rect x="380" y="152" width="1" height="4"/>
<rect x="381" y="153" width="1" height="1" fill-opacity="0.85"/>
<rect x="379" y="152" width="1" height="1" fill-opacity="0.85"/>
<rect x="382" y="150" width="1" height="7"/>
<rect x="383" y="150" width="1" height="1" fill-opacity="0.85"/>
<rect x="381" y="153" width="1" height="1" fill-opacity="0.85"/>
<rect x="383" y="144" width="1" height="6"/>
<rect x="384" y="147" width="1" height="1" fill-opacity="0.85"/>
<rect x="382" y="148" width="1" height="1" fill-opacity="0.85"/>
<rect x="384" y="141" width="1" height="11"/>
<rect x="385" y="149" width="1" height="1" fill-opacity="0.85"/>
<rect x="383" y="147" width="1" height="1" fill-opacity="0.85"/>
<rect x="386" y="145" width="1" height="7"/>
<rect x="387" y="146" width="1" height="1" fill-opacity="0.85"/>
<rect x="385" y="149" width="1" height="1" fill-opacity="0.85"/>
<rect x="387" y="139" width="1" height="9"/>
<rect x="388" y="146" width="1" height="1" fill-opacity="0.85"/>
<rect x="386" y="146" width="1" height="1" fill-opacity="0.85"/>
<rect x="389" y="142" width="1" height="9"/>
<rect x="390" y="150" width="1" height="1" fill-opacity="0.85"/>
<rect x="388" y="146" width="1" height="1" fill-opacity="0.85"/>
<rect x="391" y="151" width="1" height="11"/>
<rect x="392" y="160" width="1" height="1" fill-opacity="0.85"/>
<rect x="390" y="152" width="1" height="1" fill-opacity="0.85"/>
<rect x="392" y="156" width="1" height="8"/>
<rect x="393" y="162" width="1" height="1" fill-opacity="0.85"/>
<rect x="391" y="160" width="1" height="1" fill-opacity="0.85"/>
<rect x="394" y="158" width="1" height="7"/>
<rect x="395" y="164" width="1" height="1" fill-opacity="0.85"/>
<rect x="393" y="162" width="1" height="1" fill-opacity="0.85"/>
<rect x="395" y="160" width="1" height="9"/>
<rect x="396" y="160" width="1" height="1" fill-opacity="0.85"/>
<rect x="394" y="164" width="1" height="1" fill-opacity="0.85"/>
<rect x="397" y="156" width="1" height="8"/>
<rect x="398" y="159" width="1" height="1" fill-opacity="0.85"/>
<rect x="396" y="160" width="1" height="1" fill-opacity="0.85"/>
<rect x="398" y="154" width="1" height="9"/>
<rect x="399" y="162" width="1" height="1" fill-opacity="0.85"/>
<rect x="397" y="159" width="1" height="1" fill-opacity="0.85"/>
<rect x="398" y="167" width="1" height="7"/>
<rect x="399" y="172" width="1" height="1" fill-opacity="0.85"/>
<rect x="397" y="168" width="1" height="1" fill-opacity="0.85"/>
<rect x="399" y="167" width="1" height="12"/>
<rect x="400" y="168" width="1" height="1" fill-opacity="0.85"/>
<rect x="398" y="172" width="1" height="1" fill-opacity="0.85"/>
<rect x="401" y="156" width="1" height="18"/>
<rect x="402" y="164" width="1" height="1" fill-opacity="0.85"/>
<rect x="400" y="168" width="1" height="1" fill-opacity="0.85"/>
<rect x="402" y="159" width="1" height="10"/>
<rect x="403" y="164" width="1" height="1" fill-opacity="0.85"/>
<rect x="401" y="164" width="1" height="1" fill-opacity="0.85"/>
<rect x="404" y="161" width="1" height="5"/>
<rect x="405" y="163" width="1" height="1" fill-opacity="0.85"/>
<rect x="403" y="164" width="1" height="1" fill-opacity="0.85"/>
<rect x="404" y="160" width="1" height="6"/>
<rect x="405" y="161" width="1" height="1" fill-opacity="0.85"/>
<rect x="403" y="163" width="1" height="1" fill-opacity="0.85"/>
<rect x="405" y="158" width="1" height="5"/>
<rect x="406" y="158" width="1" height="1" fill-opacity="0.85"/>
<rect x="404" y="161" width="1" height="1" fill-opacity="0.85"/>
<rect x="407" y="153" width="1" height="8"/>
<rect x="408" y="159" width="1" height="1" fill-opacity="0.85"/>
<rect x="406" y="158" width="1" height="1" fill-opacity="0.85"/>
<rect x="408" y="156" width="1" height="6"/>
<rect x="409" y="159" width="1" height="1" fill-opacity="0.85"/>
<rect x="407" y="159" width="1" height="1" fill-opacity="0.85"/>
<rect x="410" y="156" width="1" height="7"/>
<rect x="411" y="156" width="1" height="1" fill-opacity="0.85"/>
<rect x="409" y="159" width="1" height="1" fill-opacity="0.85"/>
<rect x="411" y="148" width="1" height="13"/>
<rect x="412" y="149" width="1" height="1" fill-opacity="0.85"/>
<rect x="410" y="156" width="1" height="1" fill-opacity="0.85"/>
<rect x="413" y="147" width="1" height="4"/>
<rect x="414" y="148" width="1" height="1" fill-opacity="0.85"/>
<rect x="412" y="149" width="1" height="1" fill-opacity="0.85"/>
<rect x="414" y="138" width="1" height="10"/>
<rect x="415" y="140" width="1" height="1" fill-opacity="0.85"/>
<rect x="413" y="146" width="1" height="1" fill-opacity="0.85"/>
<rect x="416" y="137" width="1" height="6"/>
<rect x="417" y="142" width="1" height="1" fill-opacity="0.85"/>
<rect x="415" y="140" width="1" height="1" fill-opacity="0.85"/>
<rect x="417" y="134" width="1" height="22"/>
<rect x="418" y="141" width="1" height="1" fill-opacity="0.85"/>
<rect x="416" y="142" width="1" height="1" fill-opacity="0.85"/>
<rect x="419" y="140" width="1" height="2"/>
<rect x="420" y="128" width="1" height="11"/>
<rect x="421" y="132" width="1" height="1" fill-opacity="0.85"/>
<rect x="419" y="138" width="1" height="1" fill-opacity="0.85"/>
<rect x="422" y="129" width="1" height="7"/>
<rect x="423" y="131" width="1" height="1" fill-opacity="0.85"/>
<rect x="421" y="132" width="1" height="1" fill-opacity="0.85"/>
<rect x="424" y="126" width="1" height="10"/>
<rect x="425" y="134" width="1" height="1" fill-opacity="0.85"/>
<rect x="423" y="131" width="1" height="1" fill-opacity="0.85"/>
<rect x="425" y="128" width="1" height="11"/>
<rect x="426" y="134" width="1" height="1" fill-opacity="0.85"/>
<rect x="424" y="134" width="1" height="1" fill-opacity="0.85"/>
<rect x="427" y="128" width="1" height="11"/>
<rect x="428" y="131" width="1" height="1" fill-opacity="0.85"/>
<rect x="426" y="134" width="1" height="1" fill-opacity="0.85"/>
<rect x="428" y="125" width="1" height="13"/>
<rect x="429" y="126" width="1" height="1" fill-opacity="0.85"/>
<rect x="427" y="131" width="1" height="1" fill-opacity="0.85"/>
<rect x="430" y="110" width="1" height="19"/>
<rect x="431" y="110" width="1" height="1" fill-opacity="0.85"/>
<rect x="429" y="126" width="1" height="1" fill-opacity="0.85"/>
<rect x="431" y="102" width="1" height="10"/>
<rect x="432" y="102" width="1" height="1" fill-opacity="0.85"/>
<rect x="430" y="110" width="1" height="1" fill-opacity="0.85"/>
<rect x="433" y="92" width="1" height="17"/>
<rect x="434" y="106" width="1" height="1" fill-opacity="0.85"/>
<rect x="432" y="102" width="1" height="1" fill-opacity="0.85"/>
<rect x="434" y="102" width="1" height="9"/>
<rect x="435" y="103" width="1" height="1" fill-opacity="0.85"/>
<rect x="433" y="106" width="1" height="1" fill-opacity="0.85"/>
<rect x="436" y="97" width="1" height="13"/>
<rect x="437" y="108" width="1" height="1" fill-opacity="0.85"/>
<rect x="435" y="103" width="1" height="1" fill-opacity="0.85"/>
<rect x="437" y="110" width="1" height="22"/>
<rect x="438" y="130" width="1" height="1" fill-opacity="0.85"/>
<rect x="436" y="110" width="1" height="1" fill-opacity="0.85"/>
<rect x="438" y="141" width="1" height="3"/>
<rect x="439" y="142" width="1" height="1" fill-opacity="0.85"/>
<rect x="437" y="142" width="1" height="1" fill-opacity="0.85"/>
<rect x="440" y="138" width="1" height="14"/>
<rect x="441" y="147" width="1" height="1" fill-opacity="0.85"/>
<rect x="439" y="142" width="1" height="1" fill-opacity="0.85"/>
<rect x="441" y="144" width="1" height="6"/>
<rect x="442" y="147" width="1" height="1" fill-opacity="0.85"/>
<rect x="440" y="147" width="1" height="1" fill-opacity="0.85"/>
<rect x="443" y="144" width="1" height="5"/>
<rect x="444" y="148" width="1" height="1" fill-opacity="0.85"/>
<rect x="442" y="147" width="1" height="1" fill-opacity="0.85"/>
<rect x="444" y="146" width="1" height="8"/>
<rect x="445" y="151" width="1" height="1" fill-opacity="0.85"/>
<rect x="443" y="148" width="1" height="1" fill-opacity="0.85"/>
<rect x="446" y="150" width="1" height="2"/>
<rect x="447" y="144" width="1" height="9"/>
<rect x="448" y="152" width="1" height="1" fill-opacity="0.85"/>
<rect x="446" y="151" width="1" height="1" fill-opacity="0.85"/>
<rect x="448" y="149" width="1" height="5"/>
<rect x="449" y="152" width="1" height="1" fill-opacity="0.85"/>
<rect x="447" y="152" width="1" height="1" fill-opacity="0.85"/>
<rect x="449" y="152" width="1" height="7"/>
<rect x="450" y="152" width="1" height="1" fill-opacity="0.85"/>
<rect x="448" y="152" width="1" height="1" fill-opacity="0.85"/>
<rect x="450" y="146" width="1" height="10"/>
<rect x="451" y="146" width="1" height="1" fill-opacity="0.85"/>
<rect x="449" y="152" width="1" height="1" fill-opacity="0.85"/>
<rect x="452" y="141" width="1" height="9"/>
<rect x="453" y="142" width="1" height="1" fill-opacity="0.85"/>
<rect x="451" y="146" width="1" height="1" fill-opacity="0.85"/>
<rect x="454" y="139" width="1" height="7"/>
<rect x="455" y="143" width="1" height="1" fill-opacity="0.85"/>
<rect x="453" y="142" width="1" height="1" fill-opacity="0.85"/>
<rect x="455" y="140" width="1" height="6"/>
<rect x="456" y="142" width="1" height="1" fill-opacity="0.85"/>
<rect x="454" y="143" width="1" height="1" fill-opacity="0.85"/>
<rect x="457" y="139" width="1" height="6"/>
<rect x="458" y="144" width="1" height="1" fill-opacity="0.85"/>
<rect x="456" y="142" width="1" height="1" fill-opacity="0.85"/>
<rect x="458" y="141" width="1" height="6"/>
<rect x="459" y="146" width="1" height="1" fill-opacity="0.85"/>
<rect x="457" y="144" width="1" height="1" fill-opacity="0.85"/>
<rect x="460" y="144" width="1" height="7"/>
<rect x="461" y="147" width="1" height="1" fill-opacity="0.85"/>
<rect x="459" y="146" width="1" height="1" fill-opacity="0.85"/>
<rect x="461" y="144" width="1" height="7"/>
<rect x="462" y="150" width="1" height="1" fill-opacity="0.85"/>
<rect x="460" y="147" width="1" height="1" fill-opacity="0.85"/>
<rect x="463" y="148" width="1" height="18"/>
<rect x="464" y="158" width="1" height="1" fill-opacity="0.85"/>
<rect x="462" y="150" width="1" height="1" fill-opacity="0.85"/>
<rect x="464" y="150" width="1" height="17"/>
<rect x="465" y="157" width="1" height="1" fill-opacity="0.85"/>
<rect x="463" y="158" width="1" height="1" fill-opacity="0.85"/>
<rect x="466" y="148" width="1" height="17"/>
<rect x="467" y="161" width="1" height="1" fill-opacity="0.85"/>
<rect x="465" y="157" width="1" height="1" fill-opacity="0.85"/>
<rect x="467" y="159" width="1" height="3"/>
<rect x="468" y="160" width="1" height="1" fill-opacity="0.85"/>
<rect x="466" y="160" width="1" height="1" fill-opacity="0.85"/>
<rect x="468" y="155" width="1" height="12"/>
<rect x="469" y="156" width="1" height="1" fill-opacity="0.85"/>
<rect x="467" y="160" width="1" height="1" fill-opacity="0.85"/>
<rect x="469" y="149" width="1" height="11"/>
<rect x="470" y="152" width="1" height="1" fill-opacity="0.85"/>
<rect x="468" y="156" width="1" height="1" fill-opacity="0.85"/>
<rect x="471" y="148" width="1" height="8"/>
<rect x="472" y="150" width="1" height="1" fill-opacity="0.85"/>
<rect x="470" y="152" width="1" height="1" fill-opacity="0.85"/>
<rect x="472" y="147" width="1" height="6"/>
<rect x="473" y="148" width="1" height="1" fill-opacity="0.85"/>
<rect x="471" y="150" width="1" height="1" fill-opacity="0.85"/>
<rect x="473" y="131" width="1" height="14"/>
<rect x="474" y="139" width="1" height="1" fill-opacity="0.85"/>
<rect x="472" y="144" width="1" height="1" fill-opacity="0.85"/>
<rect x="475" y="131" width="1" height="17"/>
<rect x="476" y="132" width="1" height="1" fill-opacity="0.85"/>
<rect x="474" y="139" width="1" height="1" fill-opacity="0.85"/>
<rect x="476" y="122" width="1" height="19"/>
<rect x="477" y="131" width="1" height="1" fill-opacity="0.85"/>
<rect x="475" y="132" width="1" height="1" fill-opacity="0.85"/>
<rect x="478" y="125" width="1" height="13"/>
<rect x="479" y="126" width="1" height="1" fill-opacity="0.85"/>
<rect x="477" y="131" width="1" height="1" fill-opacity="0.85"/>
<rect x="479" y="116" width="1" height="18"/>
<rect x="480" y="121" width="1" height="1" fill-opacity="0.85"/>
<rect x="478" y="126" width="1" height="1" fill-opacity="0.85"/>
<rect x="480" y="118" width="1" height="6"/>
<rect x="481" y="120" width="1" height="1" fill-opacity="0.85"/>
<rect x="479" y="121" width="1" height="1" fill-opacity="0.85"/>
<rect x="482" y="117" width="1" height="6"/>
<rect x="483" y="118" width="1" height="1" fill-opacity="0.85"/>
<rect x="481" y="120" width="1" height="1" fill-opacity="0.85"/>
<rect x="483" y="112" width="1" height="9"/>
<rect x="484" y="112" width="1" height="1" fill-opacity="0.85"/>
<rect x="482" y="118" width="1" height="1" fill-opacity="0.85"/>
<rect x="485" y="90" width="1" height="16"/>
<rect x="486" y="98" width="1" height="1" fill-opacity="0.85"/>
<rect x="484" y="104" width="1" height="1" fill-opacity="0.85"/>
<rect x="486" y="88" width="1" height="21"/>
<rect x="487" y="102" width="1" height="1" fill-opacity="0.85"/>
<rect x="485" y="98" width="1" height="1" fill-opacity="0.85"/>
<rect x="488" y="98" width="1" height="8"/>
<rect x="489" y="104" width="1" height="1" fill-opacity="0.85"/>
<rect x="487" y="102" width="1" height="1" fill-opacity="0.85"/>
<rect x="489" y="100" width="1" height="19"/>
<rect x="490" y="100" width="1" height="1" fill-opacity="0.85"/>
<rect x="488" y="104" width="1" height="1" fill-opacity="0.85"/>
<rect x="491" y="96" width="1" height="8"/>
<rect x="492" y="102" width="1" height="1" fill-opacity="0.85"/>
<rect x="490" y="100" width="1" height="1" fill-opacity="0.85"/>
<rect x="492" y="98" width="1" height="9"/>
<rect x="493" y="98" width="1" height="1" fill-opacity="0.85"/>
<rect x="491" y="102" width="1" height="1" fill-opacity="0.85"/>
<rect x="494" y="94" width="1" height="6"/>
<rect x="495" y="98" width="1" height="1" fill-opacity="0.85"/>
<rect x="493" y="98" width="1" height="1" fill-opacity="0.85"/>
<rect x="495" y="94" width="1" height="8"/>
<rect x="496" y="94" width="1" height="1" fill-opacity="0.85"/>
<rect x="494" y="98" width="1" height="1" fill-opacity="0.85"/>
<rect x="497" y="91" width="1" height="5"/>
<rect x="498" y="92" width="1" height="1" fill-opacity="0.85"/>
<rect x="496" y="94" width="1" height="1" fill-opacity="0.85"/>
<rect x="498" y="85" width="1" height="6"/>
<rect x="499" y="90" width="1" height="1" fill-opacity="0.85"/>
<rect x="497" y="90" width="1" height="1" fill-opacity="0.85"/>
<rect x="500" y="91" width="1" height="6"/>
<rect x="501" y="92" width="1" height="1" fill-opacity="0.85"/>
<rect x="499" y="92" width="1" height="1" fill-opacity="0.85"/>
<rect x="500" y="76" width="1" height="5"/>
<rect x="501" y="78" width="1" height="1" fill-opacity="0.85"/>
<rect x="499" y="80" width="1" height="1" fill-opacity="0.85"/>
<rect x="502" y="71" width="1" height="13"/>
<rect x="503" y="72" width="1" height="1" fill-opacity="0.85"/>
<rect x="501" y="78" width="1" height="1" fill-opacity="0.85"/>
<rect x="503" y="68" width="1" height="10"/>
<rect x="504" y="68" width="1" height="1" fill-opacity="0.85"/>
<rect x="502" y="72" width="1" height="1" fill-opacity="0.85"/>
<rect x="504" y="64" width="1" height="6"/>
<rect x="505" y="68" width="1" height="1" fill-opacity="0.85"/>
<rect x="503" y="68" width="1" height="1" fill-opacity="0.85"/>
<rect x="506" y="66" width="1" height="9"/>
<rect x="507" y="72" width="1" height="1" fill-opacity="0.85"/>
<rect x="505" y="68" width="1" height="1" fill-opacity="0.85"/>
<rect x="507" y="68" width="1" height="7"/>
<rect x="508" y="74" width="1" height="1" fill-opacity="0.85"/>
<rect x="506" y="72" width="1" height="1" fill-opacity="0.85"/>
<rect x="508" y="71" width="1" height="6"/>
<rect x="509" y="76" width="1" height="1" fill-opacity="0.85"/>
<rect x="507" y="74" width="1" height="1" fill-opacity="0.85"/>
<rect x="510" y="76" width="1" height="8"/>
<rect x="511" y="82" width="1" height="1" fill-opacity="0.85"/>
<rect x="509" y="76" width="1" height="1" fill-opacity="0.85"/>
<rect x="511" y="76" width="1" height="13"/>
<rect x="512" y="88" width="1" height="1" fill-opacity="0.85"/>
<rect x="510" y="82" width="1" height="1" fill-opacity="0.85"/>
<rect x="512" y="108" width="1" height="10"/>
<rect x="513" y="111" width="1" height="1" fill-opacity="0.85"/>
<rect x="511" y="108" width="1" height="1" fill-opacity="0.85"/>
<rect x="514" y="107" width="1" height="9"/>
<rect x="515" y="114" width="1" height="1" fill-opacity="0.85"/>
<rect x="513" y="111" width="1" height="1" fill-opacity="0.85"/>
<rect x="515" y="109" width="1" height="10"/>
<rect x="516" y="118" width="1" height="1" fill-opacity="0.85"/>
<rect x="514" y="114" width="1" height="1" fill-opacity="0.85"/>
<rect x="517" y="119" width="1" height="13"/>
<rect x="518" y="130" width="1" height="1" fill-opacity="0.85"/>
<rect x="516" y="120" width="1" height="1" fill-opacity="0.85"/>
<rect x="518" y="132" width="1" height="12"/>
<rect x="519" y="142" width="1" height="1" fill-opacity="0.85"/>
<rect x="517" y="132" width="1" height="1" fill-opacity="0.85"/>
<rect x="519" y="140" width="1" height="8"/>
<rect x="520" y="146" width="1" height="1" fill-opacity="0.85"/>
<rect x="518" y="142" width="1" height="1" fill-opacity="0.85"/>
<rect x="520" y="145" width="1" height="10"/>
<rect x="521" y="154" width="1" height="1" fill-opacity="0.85"/>
<rect x="519" y="146" width="1" height="1" fill-opacity="0.85"/>
<rect x="521" y="161" width="1" height="16"/>
<rect x="522" y="176" width="1" height="1" fill-opacity="0.85"/>
<rect x="520" y="162" width="1" height="1" fill-opacity="0.85"/>
<rect x="523" y="186" width="1" height="8"/>
<rect x="524" y="186" width="1" height="1" fill-opacity="0.85"/>
<rect x="522" y="186" width="1" height="1" fill-opacity="0.85"/>
<rect x="524" y="169" width="1" height="31"/>
<rect x="525" y="170" width="1" height="1" fill-opacity="0.85"/>
<rect x="523" y="186" width="1" height="1" fill-opacity="0.85"/>
<rect x="525" y="145" width="1" height="15"/>
<rect x="526" y="152" width="1" height="1" fill-opacity="0.85"/>
<rect x="524" y="158" width="1" height="1" fill-opacity="0.85"/>
<rect x="526" y="146" width="1" height="12"/>
<rect x="527" y="146" width="1" height="1" fill-opacity="0.85"/>
<rect x="525" y="152" width="1" height="1" fill-opacity="0.85"/>
<rect x="528" y="118" width="1" height="16"/>
<rect x="529" y="130" width="1" height="1" fill-opacity="0.85"/>
<rect x="527" y="132" width="1" height="1" fill-opacity="0.85"/>
<rect x="530" y="124" width="1" height="12"/>
<rect x="531" y="134" width="1" height="1" fill-opacity="0.85"/>
<rect x="529" y="130" width="1" height="1" fill-opacity="0.85"/>
<rect x="531" y="129" width="1" height="24"/>
<rect x="532" y="146" width="1" height="1" fill-opacity="0.85"/>
<rect x="530" y="134" width="1" height="1" fill-opacity="0.85"/>
<rect x="532" y="136" width="1" height="19"/>
<rect x="533" y="152" width="1" height="1" fill-opacity="0.85"/>
<rect x="531" y="146" width="1" height="1" fill-opacity="0.85"/>
<rect x="533" y="131" width="1" height="41"/>
<rect x="534" y="159" width="1" height="1" fill-opacity="0.85"/>
<rect x="532" y="152" width="1" height="1" fill-opacity="0.85"/>
<rect x="535" y="146" width="1" height="26"/>
<rect x="536" y="158" width="1" height="1" fill-opacity="0.85"/>
<rect x="534" y="159" width="1" height="1" fill-opacity="0.85"/>
<rect x="537" y="116" width="1" height="85"/>
<rect x="538" y="132" width="1" height="1" fill-opacity="0.85"/>
<rect x="536" y="158" width="1" height="1" fill-opacity="0.85"/>
<rect x="538" y="115" width="1" height="34"/>
<rect x="539" y="116" width="1" height="1" fill-opacity="0.85"/>
<rect x="537" y="132" width="1" height="1" fill-opacity="0.85"/>
<rect x="539" y="78" width="1" height="71"/>
<rect x="540" y="78" width="1" height="1" fill-opacity="0.85"/>
<rect x="538" y="116" width="1" height="1" fill-opacity="0.85"/>
<rect x="540" y="66" width="1" height="9"/>
<rect x="541" y="74" width="1" height="1" fill-opacity="0.85"/>
<rect x="539" y="74" width="1" height="1" fill-opacity="0.85"/>
<rect x="541" y="57" width="1" height="59"/>
<rect x="542" y="58" width="1" height="1" fill-opacity="0.85"/>
<rect x="540" y="74" width="1" height="1" fill-opacity="0.85"/>
<rect x="542" y="51" width="1" height="1"/>
<rect x="542" y="65" width="1" height="12"/>
<rect x="543" y="72" width="1" height="1" fill-opacity="0.85"/>
<rect x="541" y="66" width="1" height="1" fill-opacity="0.85"/>
<rect x="543" y="29" width="1" height="86"/>
<rect x="544" y="110" width="1" height="1" fill-opacity="0.85"/>
<rect x="542" y="72" width="1" height="1" fill-opacity="0.85"/>
<rect x="544" y="105" width="1" height="9"/>
<rect x="545" y="106" width="1" height="1" fill-opacity="0.85"/>
<rect x="543" y="110" width="1" height="1" fill-opacity="0.85"/>
<rect x="544" y="42" width="1" height="42"/>
<rect x="545" y="82" width="1" height="1" fill-opacity="0.85"/>
<rect x="543" y="82" width="1" height="1" fill-opacity="0.85"/>
<rect x="546" y="121" width="1" height="27"/>
<rect x="547" y="122" width="1" height="1" fill-opacity="0.85"/>
<rect x="545" y="122" width="1" height="1" fill-opacity="0.85"/>
<rect x="548" y="67" width="1" height="1"/>
<rect x="548" y="111" width="1" height="37"/>
<rect x="549" y="112" width="1" height="1" fill-opacity="0.85"/>
<rect x="547" y="122" width="1" height="1" fill-opacity="0.85"/>
<rect x="549" y="67" width="1" height="67"/>
<rect x="550" y="92" width="1" height="1" fill-opacity="0.85"/>
<rect x="548" y="112" width="1" height="1" fill-opacity="0.85"/>
<rect x="550" y="78" width="1" height="28"/>
<rect x="551" y="104" width="1" height="1" fill-opacity="0.85"/>
<rect x="549" y="92" width="1" height="1" fill-opacity="0.85"/>
<rect x="551" y="92" width="1" height="42"/>
<rect x="552" y="113" width="1" height="1" fill-opacity="0.85"/>
<rect x="550" y="104" width="1" height="1" fill-opacity="0.85"/>
<rect x="553" y="84" width="1" height="58"/>
<rect x="554" y="84" width="1" height="1" fill-opacity="0.85"/>
<rect x="552" y="113" width="1" height="1" fill-opacity="0.85"/>
<rect x="554" y="81" width="1" height="4"/>
<rect x="555" y="84" width="1" height="1" fill-opacity="0.85"/>
<rect x="553" y="84" width="1" height="1" fill-opacity="0.85"/>
<rect x="554" y="105" width="1" height="49"/>
<rect x="555" y="145" width="1" height="1" fill-opacity="0.85"/>
<rect x="553" y="106" width="1" height="1" fill-opacity="0.85"/>
<rect x="556" y="141" width="1" height="8"/>
<rect x="557" y="142" width="1" height="1" fill-opacity="0.85"/>
<rect x="555" y="145" width="1" height="1" fill-opacity="0.85"/>
<rect x="556" y="120" width="1" height="29"/>
<rect x="557" y="120" width="1" height="1" fill-opacity="0.85"/>
<rect x="555" y="142" width="1" height="1" fill-opacity="0.85"/>
<rect x="557" y="97" width="1" height="42"/>
<rect x="558" y="113" width="1" height="1" fill-opacity="0.85"/>
<rect x="556" y="120" width="1" height="1" fill-opacity="0.85"/>
<rect x="559" y="96" width="1" height="33"/>
<rect x="560" y="110" width="1" height="1" fill-opacity="0.85"/>
<rect x="558" y="113" width="1" height="1" fill-opacity="0.85"/>
<rect x="560" y="98" width="1" height="23"/>
<rect x="561" y="102" width="1" height="1" fill-opacity="0.85"/>
<rect x="559" y="110" width="1" height="1" fill-opacity="0.85"/>
<rect x="562" y="80" width="1" height="44"/>
<rect x="563" y="108" width="1" height="1" fill-opacity="0.85"/>
<rect x="561" y="102" width="1" height="1" fill-opacity="0.85"/>
<rect x="563" y="98" width="1" height="19"/>
<rect x="564" y="116" width="1" height="1" fill-opacity="0.85"/>
<rect x="562" y="108" width="1" height="1" fill-opacity="0.85"/>
<rect x="565" y="105" width="1" height="24"/>
<rect x="566" y="110" width="1" height="1" fill-opacity="0.85"/>
<rect x="564" y="116" width="1" height="1" fill-opacity="0.85"/>
<rect x="566" y="104" width="1" height="12"/>
<rect x="567" y="109" width="1" height="1" fill-opacity="0.85"/>
<rect x="565" y="110" width="1" height="1" fill-opacity="0.85"/>
<rect x="567" y="102" width="1" height="13"/>
<rect x="568" y="114" width="1" height="1" fill-opacity="0.85"/>
<rect x="566" y="109" width="1" height="1" fill-opacity="0.85"/>
<rect x="568" y="105" width="1" height="17"/>
<rect x="569" y="106" width="1" height="1" fill-opacity="0.85"/>
<rect x="567" y="114" width="1" height="1" fill-opacity="0.85"/>
<rect x="568" y="94" width="1" height="8"/>
<rect x="569" y="100" width="1" height="1" fill-opacity="0.85"/>
<rect x="567" y="100" width="1" height="1" fill-opacity="0.85"/>
<rect x="569" y="105" width="1" height="17"/>
<rect x="570" y="106" width="1" height="1" fill-opacity="0.85"/>
<rect x="568" y="106" width="1" height="1" fill-opacity="0.85"/>
<rect x="570" y="88" width="1" height="13"/>
<rect x="571" y="100" width="1" height="1" fill-opacity="0.85"/>
<rect x="569" y="100" width="1" height="1" fill-opacity="0.85"/>
<rect x="571" y="95" width="1" height="11"/>
<rect x="572" y="104" width="1" height="1" fill-opacity="0.85"/>
<rect x="570" y="100" width="1" height="1" fill-opacity="0.85"/>
<rect x="572" y="93" width="1" height="22"/>
<rect x="573" y="112" width="1" height="1" fill-opacity="0.85"/>
<rect x="571" y="104" width="1" height="1" fill-opacity="0.85"/>
<rect x="573" y="104" width="1" height="15"/>
<rect x="574" y="115" width="1" height="1" fill-opacity="0.85"/>
<rect x="572" y="112" width="1" height="1" fill-opacity="0.85"/>
<rect x="575" y="105" width="1" height="21"/>
<rect x="576" y="112" width="1" height="1" fill-opacity="0.85"/>
<rect x="574" y="115" width="1" height="1" fill-opacity="0.85"/>
<rect x="576" y="103" width="1" height="17"/>
<rect x="577" y="108" width="1" height="1" fill-opacity="0.85"/>
<rect x="575" y="112" width="1" height="1" fill-opacity="0.85"/>
<rect x="578" y="102" width="1" height="13"/>
<rect x="579" y="110" width="1" height="1" fill-opacity="0.85"/>
<rect x="577" y="108" width="1" height="1" fill-opacity="0.85"/>
<rect x="579" y="104" width="1" height="12"/>
<rect x="580" y="107" width="1" height="1" fill-opacity="0.85"/>
<rect x="578" y="110" width="1" height="1" fill-opacity="0.85"/>
<rect x="581" y="98" width="1" height="17"/>
<rect x="582" y="114" width="1" height="1" fill-opacity="0.85"/>
<rect x="580" y="107" width="1" height="1" fill-opacity="0.85"/>
<rect x="582" y="106" width="1" height="40"/>
<rect x="583" y="126" width="1" height="1" fill-opacity="0.85"/>
<rect x="581" y="114" width="1" height="1" fill-opacity="0.85"/>
</g>
<rect x="0" y="352.7" width="676.2" height="1.3" fill="#fff"/>
<rect x="675" y="0" width="1.25" height="354" fill="#fff"/>
<path d="M676 325.65 L683.6 328.45 L676 331.25 Z" fill="#fff"/>
<path d="M676 283.50 L683.6 286.30 L676 289.10 Z" fill="#fff"/>
<path d="M676 241.35 L683.6 244.15 L676 246.95 Z" fill="#fff"/>
<path d="M676 199.20 L683.6 202.00 L676 204.80 Z" fill="#fff"/>
<path d="M676 157.05 L683.6 159.85 L676 162.65 Z" fill="#fff"/>
<path d="M676 114.90 L683.6 117.70 L676 120.50 Z" fill="#fff"/>
<path d="M676 72.75 L683.6 75.55 L676 78.35 Z" fill="#fff"/>
<path d="M676 30.60 L683.6 33.40 L676 36.20 Z" fill="#fff"/>
<rect x="676" y="349" width="3.6" height="1" fill="#fff"/>
<rect x="676" y="307" width="3.6" height="1" fill="#fff"/>
<rect x="676" y="265" width="3.6" height="1" fill="#fff"/>
<rect x="676" y="223" width="3.6" height="1" fill="#fff"/>
<rect x="676" y="181" width="3.6" height="1" fill="#fff"/>
<rect x="676" y="138" width="3.6" height="1" fill="#fff"/>
<rect x="676" y="96" width="3.6" height="1" fill="#fff"/>
<rect x="676" y="54" width="3.6" height="1" fill="#fff"/>
<rect x="676" y="12" width="3.6" height="1" fill="#fff"/>
<rect x="69" y="353" width="1" height="4" fill="#fff"/>
<rect x="97" y="353" width="1" height="4" fill="#fff"/>
<rect x="127" y="353" width="1" height="4" fill="#fff"/>
<rect x="157" y="353" width="1" height="4" fill="#fff"/>
<rect x="186" y="353" width="1" height="4" fill="#fff"/>
<rect x="214" y="353" width="1" height="4" fill="#fff"/>
<rect x="247" y="353" width="1" height="4" fill="#fff"/>
<rect x="275" y="353" width="1" height="4" fill="#fff"/>
<rect x="308" y="353" width="1" height="4" fill="#fff"/>
<rect x="340" y="353" width="1" height="4" fill="#fff"/>
<rect x="370" y="353" width="1" height="4" fill="#fff"/>
<rect x="404" y="353" width="1" height="4" fill="#fff"/>
<rect x="434" y="353" width="1" height="4" fill="#fff"/>
<rect x="463" y="353" width="1" height="4" fill="#fff"/>
<rect x="494" y="353" width="1" height="4" fill="#fff"/>
<rect x="524" y="353" width="1" height="4" fill="#fff"/>
<rect x="554" y="353" width="1" height="4" fill="#fff"/>
<rect x="584" y="353" width="1" height="4" fill="#fff"/>
<rect x="614" y="353" width="1" height="4" fill="#fff"/>
<rect x="646" y="353" width="1" height="4" fill="#fff"/>
<rect x="96.9" y="370.5" width="1.2" height="16.5" fill="#8a8a8a"/>
<rect x="462.9" y="370" width="1.2" height="17" fill="#8a8a8a"/>
<path d="M677.5 138.6 L684 129.7 L720 129.7 L720 147.5 L684 147.5 Z" fill="#fff"/>
</svg>
<div class="t" style="left:684.89px;top:321.86px;font-size:14px;color:#fff;z-index:3;transform:scale(0.9446,1.0000);-webkit-text-stroke:0.25px #fff;">11.00</div><div class="t" style="left:684.93px;top:279.71px;font-size:14px;color:#fff;z-index:3;transform:scale(0.9153,1.0000);-webkit-text-stroke:0.25px #fff;">12.00</div><div class="t" style="left:684.93px;top:237.56px;font-size:14px;color:#fff;z-index:3;transform:scale(0.9153,1.0000);-webkit-text-stroke:0.25px #fff;">13.00</div><div class="t" style="left:684.93px;top:195.41px;font-size:14px;color:#fff;z-index:3;transform:scale(0.9153,1.0000);-webkit-text-stroke:0.25px #fff;">14.00</div><div class="t" style="left:684.93px;top:153.26px;font-size:14px;color:#fff;z-index:3;transform:scale(0.9153,1.0000);-webkit-text-stroke:0.25px #fff;">15.00</div><div class="t" style="left:684.93px;top:111.11px;font-size:14px;color:#fff;z-index:3;transform:scale(0.9153,1.0000);-webkit-text-stroke:0.25px #fff;">16.00</div><div class="t" style="left:684.93px;top:68.96px;font-size:14px;color:#fff;z-index:3;transform:scale(0.9153,1.0000);-webkit-text-stroke:0.25px #fff;">17.00</div><div class="t" style="left:684.93px;top:26.81px;font-size:14px;color:#fff;z-index:3;transform:scale(0.9153,1.0000);-webkit-text-stroke:0.25px #fff;">18.00</div><div class="t" style="left:683.93px;top:131.77px;font-size:14px;color:#000;z-index:3;transform:scale(0.9131,1.0000);-webkit-text-stroke:0.25px #000;">15.51</div><div class="t" style="left:71.76px;top:356.14px;font-size:13.6px;color:#fff;z-index:3;transform:scale(0.9334,1.0000);-webkit-text-stroke:0.25px #fff;">Dec</div><div class="t" style="left:160.48px;top:356.14px;font-size:13.6px;color:#fff;z-index:3;transform:scale(0.9146,1.0000);-webkit-text-stroke:0.25px #fff;">Mar</div><div class="t" style="left:251.50px;top:356.14px;font-size:13.6px;color:#fff;z-index:3;transform:scale(0.9689,1.0000);-webkit-text-stroke:0.25px #fff;">Jun</div><div class="t" style="left:344.46px;top:356.27px;font-size:13.6px;color:#fff;z-index:3;transform:scale(0.8903,1.0000);-webkit-text-stroke:0.25px #fff;">Sep</div><div class="t" style="left:437.71px;top:356.14px;font-size:13.6px;color:#fff;z-index:3;transform:scale(0.9356,1.0000);-webkit-text-stroke:0.25px #fff;">Dec</div><div class="t" style="left:527.74px;top:356.14px;font-size:13.6px;color:#fff;z-index:3;transform:scale(0.9055,1.0000);-webkit-text-stroke:0.25px #fff;">Mar</div><div class="t" style="left:619.05px;top:356.14px;font-size:13.6px;color:#fff;z-index:3;transform:scale(0.9713,1.0000);-webkit-text-stroke:0.25px #fff;">Jun</div><div class="t" style="left:60.77px;top:372.54px;font-size:13.8px;color:#fff;z-index:3;transform:scale(0.9181,1.0000);-webkit-text-stroke:0.25px #fff;">2018</div><div class="t" style="left:265.60px;top:372.54px;font-size:13.8px;color:#fff;z-index:3;transform:scale(0.9369,1.0000);-webkit-text-stroke:0.25px #fff;">2019</div><div class="t" style="left:554.86px;top:372.54px;font-size:13.8px;color:#fff;z-index:3;transform:scale(0.9329,1.0000);-webkit-text-stroke:0.25px #fff;">2020</div><div class="t" style="left:2.01px;top:389.90px;font-size:12.4px;color:#fff;z-index:3;transform:scale(0.7971,1.0000);-webkit-text-stroke:0.2px #fff;">COL</div><div class="t" style="left:26.23px;top:389.90px;font-size:12.4px;color:#fff;z-index:3;transform:scale(0.7689,1.0000);-webkit-text-stroke:0.2px #fff;">AU</div><div class="t" style="left:42.84px;top:389.90px;font-size:12.4px;color:#fff;z-index:3;transform:scale(0.8977,1.0000);-webkit-text-stroke:0.2px #fff;">Equity</div><div class="t" style="left:78.82px;top:389.90px;font-size:12.4px;color:#fff;z-index:3;transform:scale(0.8810,1.0000);-webkit-text-stroke:0.2px #fff;">(Coles</div><div class="t" style="left:114.96px;top:389.90px;font-size:12.4px;color:#fff;z-index:3;transform:scale(0.8701,1.0000);-webkit-text-stroke:0.2px #fff;">Group</div><div class="t" style="left:148.94px;top:389.90px;font-size:12.4px;color:#fff;z-index:3;transform:scale(1.0470,1.0000);-webkit-text-stroke:0.2px #fff;">Ltd)</div><div class="t" style="left:173.69px;top:389.90px;font-size:12.4px;color:#fff;z-index:3;transform:scale(0.9078,1.0000);-webkit-text-stroke:0.2px #fff;">Graph</div><div class="t" style="left:208.22px;top:389.90px;font-size:12.4px;color:#fff;z-index:3;transform:scale(0.8615,1.0000);-webkit-text-stroke:0.2px #fff;">217</div><div class="t" style="left:233.60px;top:389.90px;font-size:12.4px;color:#fff;z-index:3;transform:scale(0.8860,1.0000);-webkit-text-stroke:0.2px #fff;">Daily</div><div class="t" style="left:263.35px;top:389.90px;font-size:12.4px;color:#fff;z-index:3;transform:scale(0.8526,1.0000);-webkit-text-stroke:0.2px #fff;">30APR2019-29APR2020</div><div class="t" style="left:388.19px;top:389.90px;font-size:12.4px;color:#fff;z-index:3;transform:scale(0.9071,1.0000);-webkit-text-stroke:0.2px #fff;">Copyright</div><div class="t" style="left:446.97px;top:389.90px;font-size:12.4px;color:#fff;z-index:3;transform:scale(0.8495,1.0000);-webkit-text-stroke:0.2px #fff;">2020</div><div class="t" style="left:474.57px;top:389.90px;font-size:12.4px;color:#fff;z-index:3;transform:scale(0.9156,1.0000);-webkit-text-stroke:0.2px #fff;">Bloomberg</div><div class="t" style="left:533.37px;top:389.90px;font-size:12.4px;color:#fff;z-index:3;transform:scale(0.8697,1.0000);-webkit-text-stroke:0.2px #fff;">Finance</div><div class="t" style="left:576.60px;top:389.90px;font-size:12.4px;color:#fff;z-index:3;transform:scale(0.8873,1.0000);-webkit-text-stroke:0.2px #fff;">L.P.</div><div class="t" style="left:603.16px;top:389.90px;font-size:12.4px;color:#fff;z-index:3;transform:scale(0.9471,1.0000);-webkit-text-stroke:0.2px #fff;">29-Apr-2020</div><div class="t" style="left:672.86px;top:389.90px;font-size:12.4px;color:#fff;z-index:3;transform:scale(0.9458,1.0000);-webkit-text-stroke:0.2px #fff;">17:16:56</div><div class="t" style="left:437.09px;top:391.05px;font-size:10.4px;color:#fff;z-index:3;transform:scale(0.6800,1.0000);">©</div><div class="t" style="left:183.76px;top:52.32px;font-size:13.8px;color:#8eea92;z-index:3;transform:scale(0.9325,1.0000);">Coles Group Ltd (COL) Daily Chart</div><div class="t" style="left:518.01px;top:6.91px;font-size:14px;color:#fff;z-index:3;transform:scale(0.9308,1.0000);">18.09</div><div class="t" style="left:491.54px;top:45.91px;font-size:14px;color:#fff;z-index:3;transform:scale(0.8985,1.0000);">17.25</div><div class="t" style="left:494.27px;top:133.14px;font-size:13.8px;color:#f2f200;z-index:3;transform:scale(0.9185,1.0000);">3.22</div><div class="t" style="left:520.29px;top:205.16px;font-size:14px;color:#fff;z-index:3;transform:scale(0.9011,1.0000);">14.01</div><div class="t" style="left:326.02px;top:247.41px;font-size:14px;color:#fff;z-index:3;transform:scale(0.9183,1.0000);">13.10</div><div class="t" style="left:175.88px;top:316.91px;font-size:14px;color:#fff;z-index:3;transform:scale(0.9543,1.0000);">11.13</div><div style="position:absolute;left:444.4px;top:305.2px;width:165.5px;height:17.8px;border:1.2px solid #fff;z-index:3;box-sizing:content-box"></div><div class="t" style="left:446.04px;top:308.78px;font-size:13.3px;color:#00f0f0;z-index:3;transform:scale(0.9795,1.0000);">info@marketmatters.com.au</div>
</body></html>
